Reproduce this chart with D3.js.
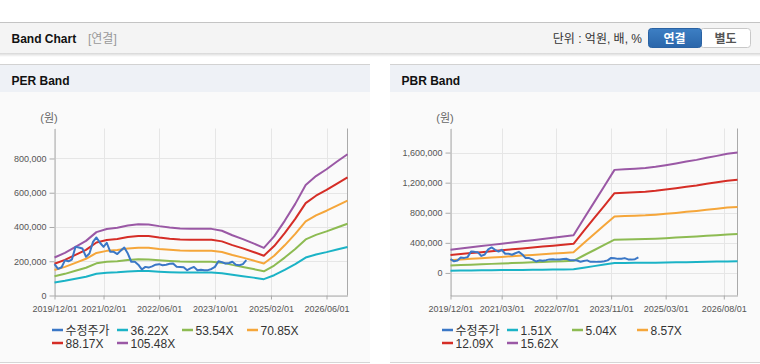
<!DOCTYPE html>
<html><head><meta charset="utf-8">
<script src="https://cdn.jsdelivr.net/npm/d3@7"></script>
<style>
body{margin:0;background:#fff;}
svg{display:block;font-family:"Liberation Sans",Arial,"Noto Sans CJK KR",sans-serif;}
</style></head><body>
<svg id="c" width="760" height="364"></svg>
<script>
// ---------- DATA ----------
const bandDates = ["2019-12-01","2020-03-01","2020-06-01","2020-09-01","2020-12-01","2021-03-01","2021-06-01","2021-09-01","2021-12-01","2022-03-01","2022-06-01","2022-09-01","2022-12-01","2023-03-01","2023-06-01","2023-09-01","2023-12-01","2024-03-01","2024-06-01","2024-09-01","2024-12-01","2025-03-01","2025-06-01","2025-09-01","2025-12-01","2026-03-01","2026-06-01","2026-09-01","2026-12-01"];

const priceDates = ["2019-12-01","2020-01-01","2020-02-01","2020-03-01","2020-04-01","2020-05-01","2020-06-01","2020-07-01","2020-08-01","2020-09-01","2020-10-01","2020-11-01","2020-12-01","2021-01-01","2021-02-01","2021-03-01","2021-04-01","2021-05-01","2021-06-01","2021-07-01","2021-08-01","2021-09-01","2021-10-01","2021-11-01","2021-12-01","2022-01-01","2022-02-01","2022-03-01","2022-04-01","2022-05-01","2022-06-01","2022-07-01","2022-08-01","2022-09-01","2022-10-01","2022-11-01","2022-12-01","2023-01-01","2023-02-01","2023-03-01","2023-04-01","2023-05-01","2023-06-01","2023-07-01","2023-08-01","2023-09-01","2023-10-01","2023-11-01","2023-12-01","2024-01-01","2024-02-01","2024-03-01","2024-04-01","2024-05-01","2024-06-01","2024-07-01"];
// 수정주가 (원)
const price = [183000,155000,165000,205000,200000,210000,284000,280000,274000,226000,245000,313000,339000,308000,284000,308000,255000,255000,242000,262000,280000,245000,197000,197000,180000,152000,167000,163000,170000,180000,183000,177000,180000,185000,187000,168000,167000,165000,148000,158000,167000,148000,150000,147000,148000,155000,167000,200000,195000,187000,190000,197000,180000,177000,183000,206000];

// PER band series
const per3622 = [76200,85500,97500,109500,127100,133200,135600,140500,142900,142500,139100,136300,134300,133600,133600,133600,129800,120900,113000,104400,95500,118500,149700,183700,221500,239300,253100,268500,283300];
const per5354 = [112700,126400,144200,161900,187800,197000,200500,207600,211200,210700,205600,201500,198500,197500,197500,197500,191900,178700,167000,154300,141100,175100,221300,271600,327400,353800,374100,396900,418800];
const per7085 = [149100,167300,190800,214300,248500,260600,265300,274700,279400,278800,272000,266700,262600,261300,261300,261300,253900,236400,221000,204200,186700,231700,292900,359400,433200,468200,495000,525300,554200];
const per8817 = [185600,208100,237400,266700,309300,324300,330200,341900,347700,346900,338500,331900,326800,325200,325200,325200,316000,294200,275000,254100,232400,288400,364500,447200,539200,582600,616100,653700,689600];
const per10548 = [222000,249000,284000,319000,370000,388000,395000,409000,416000,415000,405000,397000,391000,389000,389000,389000,378000,352000,329000,304000,278000,345000,436000,535000,645000,697000,737000,782000,825000];

// PBR band series
const pbr151 = [29900,31400,33000,34500,36100,37600,39200,40600,42200,43700,45300,46800,48400,69400,90400,111500,132500,133300,134000,135000,136500,138500,140700,143100,145400,148000,150500,153100,154700];
const pbr504 = [99700,104900,110000,115200,120400,125500,130700,135500,140700,145900,151000,156200,161400,231700,301700,372100,442100,444700,447300,450500,455700,462100,469500,477600,485000,493800,502100,510800,516300];
const pbr857 = [169500,178300,187100,195900,204700,213400,222200,230500,239200,248000,256800,265600,274400,393900,513000,632600,751700,756100,760500,766000,774800,785800,798300,812100,824700,839600,853800,868600,877900];
const pbr1209 = [239200,251600,263900,276300,288700,301100,313500,325100,337500,349800,362200,374600,387000,555700,723700,892400,1060400,1066600,1072800,1080500,1092900,1108400,1126200,1145500,1163300,1184300,1204300,1225200,1238400];
const pbr1562 = [309000,325000,341000,357000,373000,389000,405000,420000,436000,452000,468000,484000,500000,718000,935000,1153000,1370000,1378000,1386000,1396000,1412000,1432000,1455000,1480000,1503000,1530000,1556000,1583000,1600000];

const perTicksX = ["2019-12-01","2021-02-01","2022-06-01","2023-10-01","2025-02-01","2026-06-01"];
const pbrTicksX = ["2019-12-01","2021-03-01","2022-07-01","2023-11-01","2025-03-01","2026-08-01"];
const perTicksY = [0,200000,400000,600000,800000];
const pbrTicksY = [0,400000,800000,1200000,1600000];

const perNames = ["수정주가","36.22X","53.54X","70.85X","88.17X","105.48X"];
const pbrNames = ["수정주가","1.51X","5.04X","8.57X","12.09X","15.62X"];
const colors = ["#3a77c6","#1bb3c6","#8dbb52","#f5a63a","#d52d26","#9a58a5"];

// ---------- DRAW ----------
const parse = d3.timeParse("%Y-%m-%d");
const fmtDate = d3.timeFormat("%Y/%m/%d");
const svg = d3.select("#c");

// header
const defs = svg.append("defs");
const g1 = defs.append("linearGradient").attr("id","sh").attr("x1",0).attr("x2",0).attr("y1",0).attr("y2",1);
g1.append("stop").attr("offset",0).attr("stop-color","#000").attr("stop-opacity",0.16);
g1.append("stop").attr("offset",1).attr("stop-color","#000").attr("stop-opacity",0);
const bg = defs.append("linearGradient").attr("id","btn").attr("x1",0).attr("x2",0).attr("y1",0).attr("y2",1);
bg.append("stop").attr("offset",0).attr("stop-color","#3d7fc4");
bg.append("stop").attr("offset",1).attr("stop-color","#2a66aa");

svg.append("rect").attr("x",0).attr("y",22).attr("width",760).attr("height",31).attr("fill","#f4f4f4");
svg.append("line").attr("x1",0).attr("x2",760).attr("y1",22.5).attr("y2",22.5).attr("stroke","#c4c4c4");
svg.append("rect").attr("x",0).attr("y",53).attr("width",760).attr("height",4).attr("fill","url(#sh)");
svg.append("text").attr("x",11.5).attr("y",42.5).attr("font-size",12).attr("font-weight","bold").attr("fill","#111").text("Band Chart");
svg.append("text").attr("x",88).attr("y",42.5).attr("font-size",12).attr("fill","#999").text("[연결]");
svg.append("text").attr("x",642).attr("y",42.5).attr("text-anchor","end").attr("font-size",12).attr("fill","#333").text("단위 : 억원, 배, %");
svg.append("rect").attr("x",700.5).attr("y",28.5).attr("width",50).attr("height",19).attr("rx",3).attr("fill","#fff").attr("stroke","#c8c8c8");
svg.append("rect").attr("x",648.5).attr("y",28.5).attr("width",53).attr("height",19).attr("rx",3).attr("fill","url(#btn)").attr("stroke","#2a62a3");
svg.append("text").attr("x",674.5).attr("y",42.5).attr("text-anchor","middle").attr("font-size",12).attr("font-weight","bold").attr("fill","#fff").text("연결");
svg.append("text").attr("x",725.5).attr("y",42.5).attr("text-anchor","middle").attr("font-size",12).attr("font-weight","bold").attr("fill","#555").text("별도");

function panel(cfg){
  const x0 = cfg.x0;
  const p = svg.append("g");
  p.append("rect").attr("x",x0).attr("y",64).attr("width",370).attr("height",299).attr("fill","#fafafa");
  p.append("rect").attr("x",x0).attr("y",64).attr("width",370).attr("height",28).attr("fill","#eef1f6");
  p.append("line").attr("x1",x0).attr("x2",x0+370).attr("y1",64.5).attr("y2",64.5).attr("stroke","#d2d2d2");
  p.append("line").attr("x1",x0).attr("x2",x0+370).attr("y1",362.5).attr("y2",362.5).attr("stroke","#d6d6d6");
  p.append("text").attr("x",x0+11.5).attr("y",84.5).attr("font-size",12).attr("font-weight","bold").attr("fill","#111").text(cfg.title);

  const L = cfg.left, R = cfg.right, T = 128.5, B = 295.5;
  const x = d3.scaleTime().domain([parse("2019-12-01"), parse("2026-12-01")]).range([L, R]);
  const y = d3.scaleLinear().domain(cfg.yDomain).range([B, T]);

  p.append("text").attr("x",cfg.unitX).attr("y",122).attr("text-anchor","middle").attr("font-size",11).attr("fill","#666").text("(원)");

  // grid
  const xt = cfg.ticksX.map(parse);
  p.append("g").selectAll("line").data(xt).join("line")
    .attr("x1",d=>Math.round(x(d))+0.5).attr("x2",d=>Math.round(x(d))+0.5).attr("y1",T).attr("y2",B)
    .attr("stroke","#e6e6e6");
  p.append("g").selectAll("line").data(cfg.ticksY).join("line")
    .attr("x1",L).attr("x2",R).attr("y1",d=>Math.round(y(d))+0.5).attr("y2",d=>Math.round(y(d))+0.5)
    .attr("stroke","#e6e6e6");

  // axes
  const ax = p.append("g").attr("transform",`translate(0,${B})`)
    .call(d3.axisBottom(x).tickValues(xt).tickSize(4).tickSizeOuter(0).tickFormat(fmtDate));
  ax.select(".domain").attr("stroke","#aaa");
  ax.selectAll(".tick line").attr("stroke","#aaa");
  ax.selectAll(".tick text").attr("font-size",9).attr("fill","#555").attr("font-family",null).attr("dy","1.0em");
  const ay = p.append("g").attr("transform",`translate(${L},0)`)
    .call(d3.axisLeft(y).tickValues(cfg.ticksY).tickSize(5).tickSizeOuter(0).tickFormat(d3.format(",")));
  ay.select(".domain").attr("stroke","#aaa");
  ay.selectAll(".tick line").attr("stroke","#aaa");
  ay.selectAll(".tick text").attr("font-size",9).attr("fill","#555").attr("font-family",null).attr("x",-8);
  p.append("line").attr("x1",R).attr("x2",R).attr("y1",T).attr("y2",B).attr("stroke","#aaa");

  // lines
  const line = d3.line().x(d=>x(d[0])).y(d=>y(d[1]));
  const bd = bandDates.map(parse);
  cfg.bands.forEach((s,i)=>{
    p.append("path").datum(s.map((v,j)=>[bd[j],v])).attr("d",line)
      .attr("fill","none").attr("stroke",colors[i+1]).attr("stroke-width",2).attr("stroke-linejoin","round");
  });
  const pd = priceDates.map(parse);
  p.append("path").datum(price.map((v,j)=>[pd[j],v])).attr("d",line)
    .attr("fill","none").attr("stroke",colors[0]).attr("stroke-width",2).attr("stroke-linejoin","round");

  // legend
  const lg = p.append("g");
  cfg.names.forEach((n,i)=>{
    const lx = x0 + 52 + 65*(i%4), ly = 330 + 13*Math.floor(i/4);
    lg.append("line").attr("x1",lx).attr("x2",lx+11).attr("y1",ly).attr("y2",ly).attr("stroke",colors[i]).attr("stroke-width",2.5);
    lg.append("text").attr("x",lx+13.5).attr("y",ly+4.5).attr("font-size",12).attr("fill","#333").text(n);
  });
}

panel({x0:0, title:"PER Band", left:54.5, right:347.5, unitX:49, yDomain:[0,975000],
  ticksX:perTicksX, ticksY:perTicksY, names:perNames,
  bands:[per3622,per5354,per7085,per8817,per10548]});
panel({x0:390, title:"PBR Band", left:450.5, right:737.5, unitX:445, yDomain:[-300000,1920000],
  ticksX:pbrTicksX, ticksY:pbrTicksY, names:pbrNames,
  bands:[pbr151,pbr504,pbr857,pbr1209,pbr1562]});
</script>
</body></html>
